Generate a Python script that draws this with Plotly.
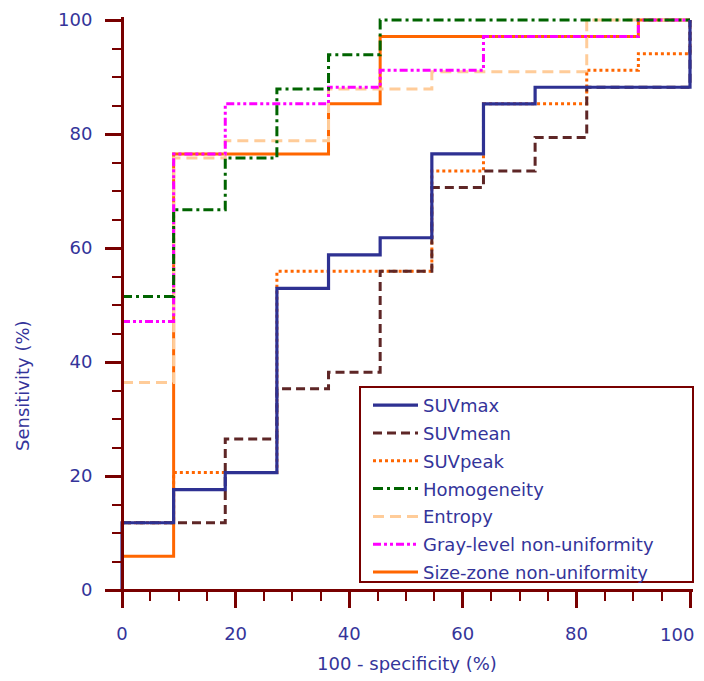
import plotly.graph_objects as go

# ROC operating points (100 - specificity, sensitivity), in %
suvmax_x = [0, 0, 9.09, 18.18, 27.27, 36.36, 45.45, 54.55, 63.64, 72.73, 100]
suvmax_y = [0, 11.8, 17.6, 20.6, 52.9, 58.8, 61.8, 76.5, 85.3, 88.2, 100]

suvmean_x = [0, 18.18, 27.27, 36.36, 45.45, 54.55, 63.64, 72.73, 81.82, 100]
suvmean_y = [11.8, 26.5, 35.3, 38.2, 55.9, 70.6, 73.5, 79.4, 88.2, 100]

suvpeak_x = [0, 9.09, 27.27, 54.55, 63.64, 81.82, 90.91, 100]
suvpeak_y = [11.8, 20.6, 55.9, 73.5, 85.3, 91.2, 94.1, 100]

homog_x = [0, 9.09, 18.18, 27.27, 36.36, 45.45, 100]
homog_y = [51.5, 66.7, 75.8, 87.9, 93.9, 100, 100]

entropy_x = [0, 9.09, 18.18, 36.36, 54.55, 81.82, 100]
entropy_y = [36.4, 75.8, 78.8, 87.9, 90.9, 100, 100]

glnu_x = [0, 9.09, 18.18, 36.36, 45.45, 63.64, 90.91, 100]
glnu_y = [47.1, 76.5, 85.3, 88.2, 91.2, 97.1, 100, 100]

sznu_x = [0, 9.09, 36.36, 45.45, 90.91, 100]
sznu_y = [5.9, 76.5, 85.3, 97.1, 100, 100]

names = ["SUVmax", "SUVmean", "SUVpeak", "Homogeneity", "Entropy",
         "Gray-level non-uniformity", "Size-zone non-uniformity"]
tick_vals = [0, 20, 40, 60, 80, 100]
y_tick_text = ["0", "20", "40", "60", "80", "100"]
# last x label is drawn separately (it sits slightly left of its tick)
x_tick_text = ["0", "20", "40", "60", "80", ""]
x_last_label = "100"

AX = "#780000"
TXT = "#34349a"
FONT = "DejaVu Sans"

series = {
    "SUVmax": (suvmax_x, suvmax_y, "#2e3192", "solid", 3.2),
    "SUVmean": (suvmean_x, suvmean_y, "#5e2626", "9px,5px", 3),
    "SUVpeak": (suvpeak_x, suvpeak_y, "#ff6600", "3px,3px", 3),
    "Homogeneity": (homog_x, homog_y, "#006400", "10px,4px,3px,4px", 3),
    "Entropy": (entropy_x, entropy_y, "#ffcc99", "11px,6px", 3),
    "Gray-level non-uniformity": (glnu_x, glnu_y, "#ff00ff", "8px,3px,3px,3px,3px,3px", 3),
    "Size-zone non-uniformity": (sznu_x, sznu_y, "#ff6600", "solid", 3),
}

draw_order = ["Size-zone non-uniformity", "Entropy", "Gray-level non-uniformity",
              "Homogeneity", "SUVpeak", "SUVmean", "SUVmax"]

fig = go.Figure()
for nm in draw_order:
    xs, ys, col, dash, w = series[nm]
    fig.add_trace(go.Scatter(
        x=xs, y=ys, mode="lines", name=nm,
        line=dict(color=col, dash=dash, width=w, shape="hv"),
        legendrank=names.index(nm) + 1, legendgroup=nm,
    ))

# page has an 8px body margin; work in page pixels and offset
OFF = 8
W, H = 704 - OFF, 681 - 2 * OFF
ml, mr, mt = 119 - OFF, 11, 17 - OFF
mb = H - (593 - OFF)
xr = [-0.528, 100.528]
yr = [-0.526, 100.526]
pw = W - ml - mr
ph = H - mt - mb

def px_to_paper_x(px):
    return (px - OFF - ml) / pw

def py_to_paper_y(py):
    return (H - mb - (py - OFF)) / ph

axis_common = dict(
    showline=True, linecolor=AX, linewidth=3,
    ticks="outside", ticklen=16, tickwidth=3, tickcolor=AX,
    tickvals=tick_vals,
    minor=dict(dtick=5, tick0=0, ticks="outside", ticklen=9, tickwidth=2, tickcolor=AX),
    showgrid=False, zeroline=False,
    tickfont=dict(family=FONT, size=18, color=TXT),
    ticklabeloverflow="allow",
    anchor="free",
)

fig.update_layout(
    width=W, height=H,
    margin=dict(l=ml, r=mr, t=mt, b=mb, autoexpand=False),
    paper_bgcolor="white", plot_bgcolor="white",
    xaxis=dict(range=xr, position=(0 - yr[0]) / (yr[1] - yr[0]), ticklabelstandoff=10,
               ticktext=x_tick_text, **axis_common),
    yaxis=dict(range=yr, position=(0 - xr[0]) / (xr[1] - xr[0]), ticklabelstandoff=9,
               ticktext=y_tick_text, **axis_common),
    showlegend=True,
    legend=dict(
        xref="paper", yref="paper",
        x=px_to_paper_x(368), y=py_to_paper_y(387), xanchor="left", yanchor="top",
        font=dict(family=FONT, size=18, color=TXT),
        bgcolor="rgba(0,0,0,0)", borderwidth=0,
        traceorder="grouped", tracegroupgap=1.4, itemwidth=45,
    ),
    shapes=[dict(
        type="rect", xref="paper", yref="paper",
        x0=px_to_paper_x(360), x1=px_to_paper_x(693),
        y0=py_to_paper_y(582), y1=py_to_paper_y(387),
        line=dict(color=AX, width=2), layer="above",
    )],
    annotations=[
        dict(text=x_last_label, xref="x", yref="paper",
             x=tick_vals[-1], xshift=-13, y=py_to_paper_y(634),
             showarrow=False, xanchor="center", yanchor="middle",
             font=dict(family=FONT, size=18, color=TXT)),
        dict(text="Sensitivity (%)", xref="paper", yref="paper",
             x=px_to_paper_x(22), y=py_to_paper_y(386), textangle=-90,
             showarrow=False, xanchor="center", yanchor="middle",
             font=dict(family=FONT, size=18, color=TXT)),
        dict(text="100 - specificity (%)", xref="paper", yref="paper",
             x=px_to_paper_x(407), y=py_to_paper_y(663),
             showarrow=False, xanchor="center", yanchor="middle",
             font=dict(family=FONT, size=18, color=TXT)),
    ],
)

fig.write_html("out.html")
